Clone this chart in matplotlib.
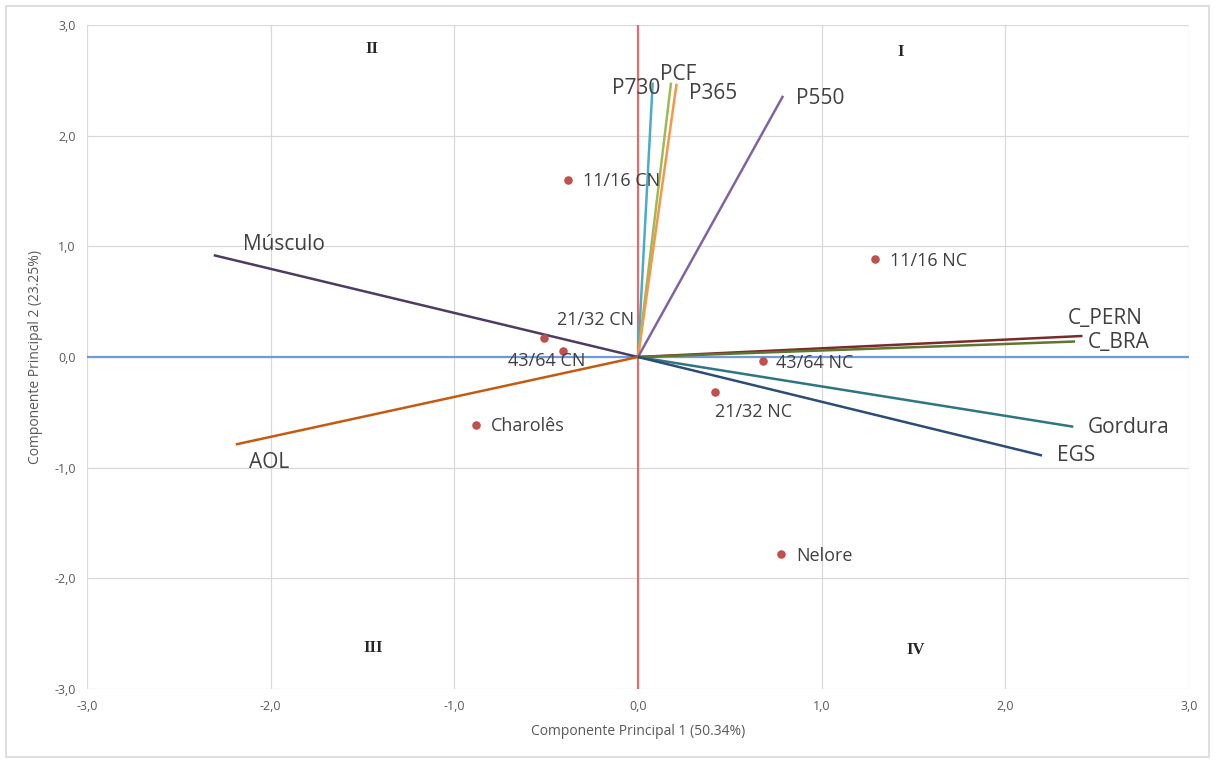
import matplotlib
matplotlib.use("Agg")
import matplotlib.pyplot as plt
from matplotlib.patches import Rectangle

# Variable vectors (loadings)
var_names = ["P730", "PCF", "P365", "P550", "Músculo", "AOL", "C_PERN", "C_BRA", "Gordura", "EGS"]
var_x = [0.08, 0.18, 0.21, 0.79, -2.31, -2.19, 2.42, 2.38, 2.37, 2.20]
var_y = [2.48, 2.48, 2.47, 2.36, 0.92, -0.79, 0.19, 0.14, -0.63, -0.89]
var_colors = ["#4BACC6", "#9BBB59", "#F79646", "#8064A2", "#4E3B62", "#C55A11",
              "#7B2C2A", "#5F7530", "#2E7683", "#2C4D75"]
# label positions (data coords, left/centre)
var_lab_x = [-0.14, 0.12, 0.28, 0.86, -2.15, -2.12, 2.34, 2.45, 2.45, 2.28]
var_lab_y = [2.43, 2.55, 2.38, 2.34, 1.02, -0.95, 0.35, 0.13, -0.64, -0.89]

# Observations (scores)
obs_names = ["11/16 CN", "11/16 NC", "21/32 CN", "43/64 CN", "43/64 NC", "21/32 NC", "Charolês", "Nelore"]
obs_x = [-0.38, 1.29, -0.51, -0.41, 0.68, 0.42, -0.88, 0.78]
obs_y = [1.60, 0.89, 0.17, 0.05, -0.04, -0.32, -0.61, -1.78]
obs_lab_x = [-0.30, 1.37, -0.44, -0.71, 0.75, 0.42, -0.80, 0.86]
obs_lab_y = [1.59, 0.87, 0.33, -0.04, -0.05, -0.50, -0.62, -1.80]

quad_names = ["I", "II", "III", "IV"]
quad_x = [1.43, -1.45, -1.44, 1.51]
quad_y = [2.76, 2.78, -2.63, -2.65]

ticks = [-3.0, -2.0, -1.0, 0.0, 1.0, 2.0, 3.0]
tick_labels = ["-3,0", "-2,0", "-1,0", "0,0", "1,0", "2,0", "3,0"]

FONT = "Open Sans"

fig = plt.figure(figsize=(12.16, 7.61), dpi=100)
ax = fig.add_axes([87/1216, 72/761, (1189-87)/1216, (689-25)/761])

ax.set_xlim(-3, 3)
ax.set_ylim(-3, 3)
ax.set_xticks(ticks)
ax.set_yticks(ticks)
ax.set_xticklabels(tick_labels, fontfamily=FONT, fontsize=9, color="#595959")
ax.set_yticklabels(tick_labels, fontfamily=FONT, fontsize=9, color="#595959")
ax.tick_params(length=0, pad=8)
ax.grid(True, color="#D9D9D9", linewidth=0.9)
ax.set_axisbelow(True)
for s in ax.spines.values():
    s.set_visible(False)

# reference axes lines
ax.axhline(0, color="#6F9BD6", linewidth=1.6, zorder=1.5)
ax.axvline(0, color="#D9716C", linewidth=1.6, zorder=1.5)

for n, x, y, c, lx, ly in zip(var_names, var_x, var_y, var_colors, var_lab_x, var_lab_y):
    ax.plot([0, x], [0, y], color=c, linewidth=1.8, zorder=3, solid_capstyle="butt")
    ax.text(lx, ly, n, fontfamily=FONT, fontsize=15, color="#404040",
            ha="left", va="center", zorder=5)

ax.scatter(obs_x, obs_y, s=38, color="#C0504D", zorder=4, linewidths=0)
for n, lx, ly in zip(obs_names, obs_lab_x, obs_lab_y):
    ax.text(lx, ly, n, fontfamily=FONT, fontsize=13, color="#404040",
            ha="left", va="center", zorder=5)

for n, x, y in zip(quad_names, quad_x, quad_y):
    ax.text(x, y, n, fontfamily="Liberation Serif", fontweight="bold", fontsize=12,
            color="#262626", ha="center", va="center")

ax.set_xlabel("Componente Principal 1 (50.34%)", fontfamily=FONT, fontsize=10,
              color="#595959", labelpad=8)
ax.set_ylabel("Componente Principal 2 (23.25%)", fontfamily=FONT, fontsize=10,
              color="#595959", labelpad=8)

fig.patches.append(Rectangle((6/1216, 4/761), 1203/1216, 751/761, transform=fig.transFigure,
                             fill=False, edgecolor="#D9D9D9", linewidth=1.2))

fig.savefig("out.png", dpi=100)
